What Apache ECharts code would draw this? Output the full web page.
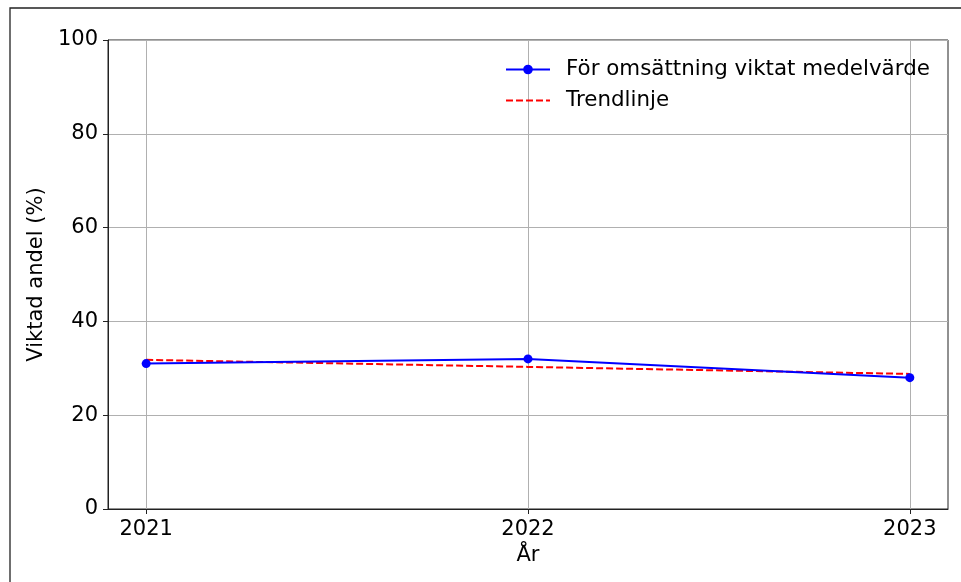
<!DOCTYPE html>
<html>
<head>
<meta charset="utf-8">
<script src="https://cdn.jsdelivr.net/npm/echarts@6/dist/echarts.min.js"></script>
<style>
html,body{margin:0;padding:0;background:#fff;}
#chart{width:961px;height:582px;}
</style>
</head>
<body>
<div id="chart"></div>
<script>
const years = [2021, 2022, 2023];
const weightedMean = [31.0, 32.0, 28.0];
const trend = [31.8, 30.3, 28.8];
const yTicks = [0, 20, 40, 60, 80, 100];

const FONT = 'DejaVu Sans';
const FS = 21;
const chart = echarts.init(document.getElementById('chart'), null, {renderer: 'canvas'});
chart.setOption({
  backgroundColor: '#fff',
  animation: false,
  textStyle: {fontFamily: FONT},
  graphic: [{
    type: 'rect',
    shape: {x: 10, y: 8, width: 1200, height: 1000},
    style: {fill: 'none', stroke: '#222', lineWidth: 1.3},
    silent: true, z: -10
  }],
  grid: {left: 108, right: 13, top: 40, bottom: 73, show: true, borderColor: '#222', borderWidth: 1},
  legend: {
    left: 500, top: 52, orient: 'vertical', align: 'left',
    itemWidth: 44, itemHeight: 12, itemGap: 6,
    textStyle: {fontFamily: FONT, fontSize: 21.4, color: '#000', lineHeight: 25, padding: [0, 0, 0, 11]},
    data: [
      {name: 'För omsättning viktat medelvärde'},
      {name: 'Trendlinje', itemStyle: {opacity: 0}}
    ]
  },
  xAxis: {
    type: 'value', min: 2020.9, max: 2023.1,
    name: 'År', nameLocation: 'middle', nameGap: 35,
    nameTextStyle: {fontFamily: FONT, fontSize: FS, color: '#000'},
    axisLine: {show: true, onZero: false, lineStyle: {color: '#222', width: 1}},
    axisTick: {show: true, length: 5, customValues: years, lineStyle: {color: '#222'}},
    axisLabel: {customValues: years, fontFamily: FONT, fontSize: FS, color: '#000', margin: 10, formatter: v => String(v)},
    splitLine: {show: true, lineStyle: {color: '#b0b0b0', width: 1}}
  },
  yAxis: {
    type: 'value', min: 0, max: 100, interval: 20,
    name: 'Viktad andel (%)', nameLocation: 'middle', nameGap: 51, nameRotate: 90,
    nameTextStyle: {fontFamily: FONT, fontSize: FS, color: '#000'},
    axisLine: {show: true, lineStyle: {color: '#222', width: 1}},
    axisTick: {show: true, length: 5, lineStyle: {color: '#222'}},
    axisLabel: {fontFamily: FONT, fontSize: FS, color: '#000', margin: 10,
      formatter: v => yTicks.includes(v) ? String(v) : ''},
    splitLine: {show: true, lineStyle: {color: '#b0b0b0', width: 1}}
  },
  series: [
    {
      name: 'För omsättning viktat medelvärde', type: 'line',
      data: years.map((y, i) => [y, weightedMean[i]]),
      symbol: 'circle', symbolSize: 9, showSymbol: true,
      itemStyle: {color: '#0000ff'},
      lineStyle: {color: '#0000ff', width: 2}, z: 3
    },
    {
      name: 'Trendlinje', type: 'line',
      data: years.map((y, i) => [y, trend[i]]),
      symbol: 'none',
      itemStyle: {color: '#ff0000'},
      lineStyle: {color: '#ff0000', width: 2, type: [7, 3]}, z: 2
    }
  ]
});
</script>
</body>
</html>
